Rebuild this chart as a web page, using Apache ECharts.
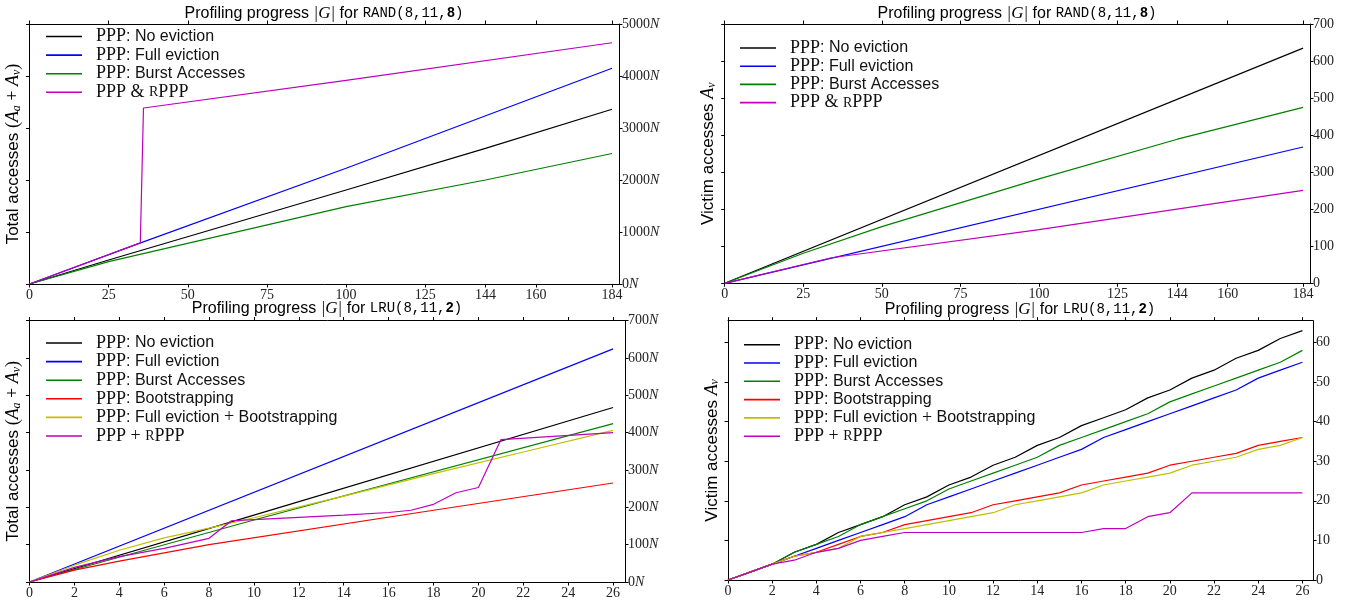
<!DOCTYPE html>
<html><head><meta charset="utf-8">
<script src="https://cdn.jsdelivr.net/npm/echarts@6/dist/echarts.min.js"></script>
<style>html,body{margin:0;padding:0;background:#fff}#c{width:1351px;height:603px}</style>
</head><body><div id="c"></div>
<script>
// ---- tick labels ----
const xTicksRand = [0, 25, 50, 75, 100, 125, 144, 160, 184];
const xTicksLru = [0, 2, 4, 6, 8, 10, 12, 14, 16, 18, 20, 22, 24, 26];
const yTicksRandTotal = [0, 1000, 2000, 3000, 4000, 5000];
const yTicksRandVictim = [0, 100, 200, 300, 400, 500, 600, 700];
const yTicksLruTotal = [0, 100, 200, 300, 400, 500, 600, 700];
const yTicksLruVictim = [0, 10, 20, 30, 40, 50, 60];

// ---- RAND(8,11,8): total accesses (in N) ----
const randTotalNoEvict = [[0, 0], [25, 462], [100, 1808], [144, 2609], [184, 3360]];
const randTotalFull = [[0, 0], [34, 767], [100, 2225], [184, 4150]];
const randTotalBurst = [[0, 0], [25, 430], [100, 1487], [144, 2000], [184, 2510]];
const randTotalRppp = [[0, 0], [35, 790], [36, 3385], [100, 3915], [184, 4640]];

// ---- RAND(8,11,8): victim accesses ----
const randVictimNoEvict = [[0, 0], [184, 635]];
const randVictimFull = [[0, 0], [184, 368]];
const randVictimBurst = [[0, 0], [25, 81], [50, 153], [100, 282], [144, 389], [184, 475]];
const randVictimRppp = [[0, 0], [34, 69], [100, 145], [184, 251]];

// ---- LRU(8,11,2): total accesses (in N) ----
const lruTotalNoEvict = [[0, 0], [10, 179], [26, 467]];
const lruTotalFull = [[0, 0], [26, 624]];
const lruTotalBurst = [[0, 0], [10, 166], [26, 424]];
const lruTotalBoot = [[0, 0], [2, 32], [4, 56], [8, 100], [18, 192], [26, 265]];
const lruTotalFullBoot = [[0, 0], [2, 45], [4, 85], [6, 118], [8, 144], [10, 172], [14, 230], [18, 290], [22, 348], [26, 406]];
const lruTotalRppp = [[0, 0], [2, 39], [4, 68], [6, 90], [8, 117], [9, 164], [10, 167], [12, 173], [14, 179], [16, 186], [17, 192], [18, 208], [19, 239], [20, 253], [21, 381], [26, 400]];

// ---- LRU(8,11,2): victim accesses, x = 0..26 ----
const lruVictimNoEvict = [0, 2, 4, 7, 9, 12, 14, 16, 19, 21, 24, 26, 29, 31, 34, 36, 39, 41, 43, 46, 48, 51, 53, 56, 58, 61, 63];
const lruVictimFull = [0, 2, 4, 6, 8, 10, 12, 14, 16, 19, 21, 23, 25, 27, 29, 31, 33, 36, 38, 40, 42, 44, 46, 48, 51, 53, 55];
const lruVictimBurst = [0, 2, 4, 7, 9, 11, 14, 16, 18, 20, 23, 25, 27, 29, 31, 34, 36, 38, 40, 42, 45, 47, 49, 51, 53, 55, 58];
const lruVictimBoot = [0, 2, 4, 6, 7, 9, 11, 12, 14, 15, 16, 17, 19, 20, 21, 22, 24, 25, 26, 27, 29, 30, 31, 32, 34, 35, 36];
const lruVictimFullBoot = [0, 2, 4, 6, 7, 8, 11, 12, 13, 14, 15, 16, 17, 19, 20, 21, 22, 24, 25, 26, 27, 29, 30, 31, 33, 34, 36];
const lruVictimRppp = [0, 2, 4, 5, 7, 8, 10, 11, 12, 12, 12, 12, 12, 12, 12, 12, 12, 13, 13, 16, 17, 22, 22, 22, 22, 22, 22];

const idx = a => a.map((v, i) => [i, v]);

const C = { black: '#000000', blue: '#0000ff', green: '#008000', red: '#ff0000', yellow: '#bfbf00', mag: '#bf00bf' };
const N1 = 'PPP: No eviction', N2 = 'PPP: Full eviction', N3 = 'PPP: Burst Accesses', N4 = 'PPP: Bootstrapping',
      N5 = 'PPP: Full eviction + Bootstrapping', N6 = 'PPP & rPPP', N7 = 'PPP + rPPP';

const SERIF = "'Liberation Serif', 'DejaVu Serif', serif";
const SANS = "'Liberation Sans', Arial, sans-serif";
const MONO = "'Liberation Mono', 'DejaVu Sans Mono', monospace";

const legendText = {};
legendText[N1] = '{sp| }{s|PPP}{t|: No eviction}';
legendText[N2] = '{sp| }{s|PPP}{t|: Full eviction}';
legendText[N3] = '{sp| }{s|PPP}{t|: Burst Accesses}';
legendText[N4] = '{sp| }{s|PPP}{t|: Bootstrapping}';
legendText[N5] = '{sp| }{s|PPP}{t|: Full eviction}{s| + }{t|Bootstrapping}';
legendText[N6] = '{sp| }{s|PPP & }{sc|R}{s|PPP}';
legendText[N7] = '{sp| }{s|PPP + }{sc|R}{s|PPP}';

const legendRich = {
  sp: { width: 9 },
  s: { fontFamily: SERIF, fontSize: 18, color: '#111' },
  sc: { fontFamily: SERIF, fontSize: 14, color: '#111', verticalAlign: 'bottom', padding: [0, 0, 1, 0] },
  t: { fontFamily: SANS, fontSize: 16, color: '#111' }
};

const grids = [
  { left: 29.5, right: 732, top: 24, bottom: 319 },
  { left: 724.7, right: 41, top: 24, bottom: 319.7 },
  { left: 29.5, right: 726, top: 320.5, bottom: 21 },
  { left: 728, right: 38, top: 320.7, bottom: 23 }
];
const xMax = [186.2, 186.2, 26.53, 26.48];
const yMax = [5000, 700, 700, 65.5];
const xTicks = [xTicksRand, xTicksRand, xTicksLru, xTicksLru];
const yTicks = [yTicksRandTotal, yTicksRandVictim, yTicksLruTotal, yTicksLruVictim];
const withN = [true, false, true, false];

const axLine = { show: true, onZero: false, lineStyle: { color: '#000', width: 1 } };
const tick = vals => ({ show: true, inside: false, length: 3.5, customValues: vals, lineStyle: { color: '#000', width: 1 } });

const xAxis = [], yAxis = [];
for (let g = 0; g < 4; g++) {
  xAxis.push({ type: 'value', gridIndex: g, min: 0, max: xMax[g], position: 'bottom', splitLine: { show: false },
    axisLine: axLine, axisTick: tick(xTicks[g]),
    axisLabel: { customValues: xTicks[g], margin: 4, fontFamily: SERIF, fontSize: 14, color: '#222' } });
}
for (let g = 0; g < 4; g++) {
  xAxis.push({ type: 'value', gridIndex: g, min: 0, max: xMax[g], position: 'top', splitLine: { show: false },
    axisLine: axLine, axisTick: tick(xTicks[g]), axisLabel: { show: false } });
}
for (let g = 0; g < 4; g++) {
  const n = withN[g];
  yAxis.push({ type: 'value', gridIndex: g, min: 0, max: yMax[g], position: 'right', splitLine: { show: false },
    axisLine: axLine, axisTick: tick(yTicks[g]),
    axisLabel: { customValues: yTicks[g], margin: 3, fontFamily: SERIF, fontSize: 14, color: '#222',
      formatter: v => n ? '{d|' + v + '}{n|N}' : '{d|' + v + '}',
      rich: { d: { fontFamily: SERIF, fontSize: 14, color: '#222' }, n: { fontFamily: SERIF, fontStyle: 'italic', fontSize: 14, color: '#222' } } } });
}
const nameRich = {
  t: { fontFamily: SANS, fontSize: 17, color: '#000' },
  p: { fontFamily: SERIF, fontSize: 18, color: '#000' },
  m: { fontFamily: SERIF, fontStyle: 'italic', fontSize: 18, color: '#000' },
  sub: { fontFamily: SERIF, fontStyle: 'italic', fontSize: 12, color: '#000', verticalAlign: 'bottom' }
};
const totalName = '{t|Total accesses }{p|(}{m|A}{sub|a}{p| + }{m|A}{sub|v}{p|)}';
const victimName = '{t|Victim accesses }{m|A}{sub|v}';
const yNames = [totalName, victimName, totalName, victimName];
for (let g = 0; g < 4; g++) {
  yAxis.push({ type: 'value', gridIndex: g, min: 0, max: yMax[g], position: 'left', splitLine: { show: false },
    axisLine: axLine, axisTick: tick(yTicks[g]), axisLabel: { show: false },
    name: yNames[g], nameLocation: 'middle', nameGap: 7, nameTextStyle: { rich: nameRich } });
}

const mk = (name, color, data, g) => ({ name, type: 'line', xAxisIndex: g, yAxisIndex: g, data, color,
  symbol: 'none', lineStyle: { color, width: 1.2 }, animation: false, silent: true });

const series = [
  mk(N1, C.black, randTotalNoEvict, 0), mk(N2, C.blue, randTotalFull, 0), mk(N3, C.green, randTotalBurst, 0), mk(N6, C.mag, randTotalRppp, 0),
  mk(N1, C.black, randVictimNoEvict, 1), mk(N2, C.blue, randVictimFull, 1), mk(N3, C.green, randVictimBurst, 1), mk(N6, C.mag, randVictimRppp, 1),
  mk(N1, C.black, lruTotalNoEvict, 2), mk(N2, C.blue, lruTotalFull, 2), mk(N3, C.green, lruTotalBurst, 2), mk(N4, C.red, lruTotalBoot, 2), mk(N5, C.yellow, lruTotalFullBoot, 2), mk(N7, C.mag, lruTotalRppp, 2),
  mk(N1, C.black, idx(lruVictimNoEvict), 3), mk(N2, C.blue, idx(lruVictimFull), 3), mk(N3, C.green, idx(lruVictimBurst), 3), mk(N4, C.red, idx(lruVictimBoot), 3), mk(N5, C.yellow, idx(lruVictimFullBoot), 3), mk(N7, C.mag, idx(lruVictimRppp), 3)
];

const mkLegend = (names, left, top, w, lh, gap) => ({
  data: names, left, top, orient: 'vertical', icon: 'rect', itemWidth: w, itemHeight: 1.6, itemGap: gap,
  selectedMode: false, padding: 0,
  formatter: n => legendText[n],
  textStyle: { lineHeight: lh, rich: legendRich }
});
const legend = [
  mkLegend([N1, N2, N3, N6], 46, 27.5, 36, 17, 0.6),
  mkLegend([N1, N2, N3, N6], 740, 39, 36, 17, 0.2),
  mkLegend([N1, N2, N3, N4, N5, N7], 46, 334, 36, 17, 0.6),
  mkLegend([N1, N2, N3, N4, N5, N7], 744, 335.7, 36, 17, 0.3)
];

const titleRich = {
  a: { fontFamily: SANS, fontSize: 16, fontWeight: 'normal', color: '#000' },
  m: { fontFamily: SERIF, fontStyle: 'italic', fontSize: 17, fontWeight: 'normal', color: '#000' },
  c: { fontFamily: MONO, fontSize: 14, fontWeight: 'normal', color: '#000' },
  b: { fontFamily: MONO, fontSize: 14, fontWeight: 'bold', color: '#000' }
};
const mkTitle = (text, cx, top) => ({ text, left: cx, top, textAlign: 'center', padding: 0,
  textStyle: { fontWeight: 'normal', rich: titleRich } });
const title = [
  mkTitle('{a|Profiling progress }{m||G|}{a| for }{c|RAND(8,11,}{b|8}{c|)}', 324, 5),
  mkTitle('{a|Profiling progress }{m||G|}{a| for }{c|RAND(8,11,}{b|8}{c|)}', 1017, 5),
  mkTitle('{a|Profiling progress }{m||G|}{a| for }{c|LRU(8,11,}{b|2}{c|)}', 327, 300),
  mkTitle('{a|Profiling progress }{m||G|}{a| for }{c|LRU(8,11,}{b|2}{c|)}', 1020, 301)
];

const chart = echarts.init(document.getElementById('c'), null, { renderer: 'canvas' });
chart.setOption({ animation: false, backgroundColor: '#fff', title, legend, grid: grids, xAxis, yAxis, series });
</script></body></html>
